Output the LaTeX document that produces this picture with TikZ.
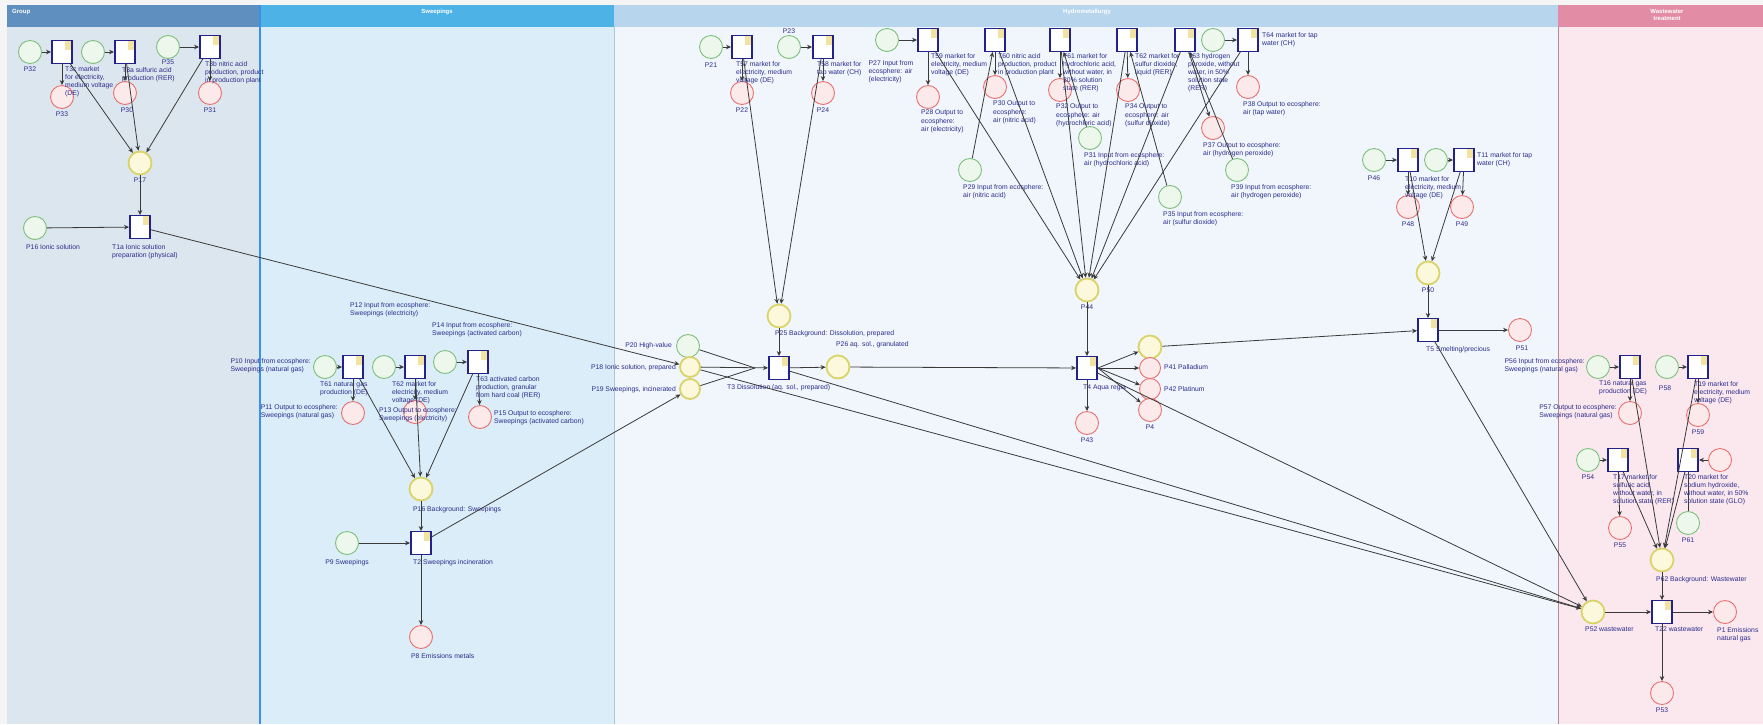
\documentclass[tikz,border=0pt]{standalone}
\usepackage{fontspec}
\setmainfont{Liberation Sans}
\usetikzlibrary{arrows.meta}
\definecolor{laneAh}{HTML}{5E8FBE}\definecolor{laneAb}{HTML}{DCE6EE}
\definecolor{laneBh}{HTML}{4DB3E6}\definecolor{laneBb}{HTML}{DBEDF8}
\definecolor{laneCh}{HTML}{B7D6EE}\definecolor{laneCb}{HTML}{F0F6FC}
\definecolor{laneDh}{HTML}{E28CA5}\definecolor{laneDb}{HTML}{FAE8EE}
\definecolor{gD}{HTML}{7DBF7D}\definecolor{gF}{HTML}{EEF7EC}
\definecolor{rD}{HTML}{E87070}\definecolor{rF}{HTML}{FCE9EA}
\definecolor{yD}{HTML}{D9D36A}\definecolor{yF}{HTML}{FBF8DC}
\definecolor{trb}{HTML}{22228A}\definecolor{labc}{HTML}{2B2B8C}
\definecolor{arcc}{HTML}{3A3A3A}\definecolor{corner}{HTML}{F3E3A0}
\newcommand{\lfnt}{\fontsize{6.8}{8.2}\selectfont}
\begin{document}
\begin{tikzpicture}[x=1pt,y=-1pt,
 pl/.style={circle, minimum size=23pt, inner sep=0pt, line width=0.9pt},
 pg/.style={pl, draw=gD, fill=gF},
 pr/.style={pl, draw=rD, fill=rF},
 py/.style={pl, draw=yD, fill=yF, line width=1.8pt},
 tr/.style={rectangle, minimum width=21pt, minimum height=23pt, inner sep=0pt, draw=trb, fill=white, line width=0.9pt,
   path picture={
     \fill[corner] ([xshift=-8pt]path picture bounding box.north east) rectangle ([yshift=-9pt]path picture bounding box.north east);
     \draw[trb, line width=3.2pt] (path picture bounding box.north west) -- (path picture bounding box.south west);
     \draw[trb, line width=3.2pt] (path picture bounding box.north east) -- (path picture bounding box.south east);}},
 lab/.style={font=\lfnt, text=labc, align=left, inner sep=0pt},
 hdr/.style={font=\fontsize{6}{7}\selectfont\bfseries, text=white, inner sep=0pt, align=center},
 arc/.style={draw=arcc, line width=0.8pt, -{Stealth[length=5pt,width=4.5pt]}},
 ln/.style={draw=arcc, line width=0.8pt}]
\useasboundingbox (0,0) rectangle (1763,724);
% lanes
\fill[white!92!gray] (0,0) rectangle (1763,724);
\fill[laneAb] (7,27) rectangle (260,724);
\fill[laneAh] (7,5) rectangle (260,27);
\fill[laneBb] (260,27) rectangle (614,724);
\fill[laneBh] (260,5) rectangle (614,27);
\fill[laneCb] (614,27) rectangle (1558,724);
\fill[laneCh] (614,5) rectangle (1558,27);
\fill[laneDb] (1558,27) rectangle (1763,724);
\fill[laneDh] (1558,5) rectangle (1763,27);
\draw[laneBh!80!blue, line width=1.3pt] (260,5) -- (260,724);
\draw[laneCh!80!gray, line width=1pt] (614,27) -- (614,724);
\draw[laneDh!60!gray, line width=1pt] (1558,27) -- (1558,724);
\node[hdr, anchor=west] (hA) at (12,12) {Group};
\node[hdr] (hB) at (437,12) {Sweepings};
\node[hdr] (hC) at (1087,12) {Hydrometallurgy};
\node[hdr] (hD) at (1667,15) {Wastewater\\treatment};
% ---------- Lane 1
\node[pg] (ga) at (30,52) {};
\node[tr] (ta) at (62,52) {};
\node[pg] (gb) at (93,52) {};
\node[tr] (tb) at (125,52) {};
\node[pg] (gc) at (168,47) {};
\node[tr] (tc) at (210,47) {};
\node[pr] (ra) at (62,97) {};
\node[pr] (rb) at (125,93) {};
\node[pr] (rc) at (210,93) {};
\node[py] (y17) at (140,163) {};
\node[tr] (t1) at (140,227) {};
\node[pg] (g16) at (35,228) {};
\node[lab,anchor=north] (lga) at (30,67) {P32};
\node[lab,anchor=north west] (lta) at (65,66) {T3c market\\for electricity,\\medium voltage\\(DE)};
\node[lab,anchor=north west] (ltb) at (122,67) {T3a sulfuric acid\\production (RER)};
\node[lab,anchor=north] (lgc) at (168,59.5) {P35};
\node[lab,anchor=north west] (ltc) at (205,61) {T3b nitric acid\\production, product\\in production plant};
\node[lab,anchor=north] (lra) at (62,112) {P33};
\node[lab,anchor=north] (lrb) at (127,108) {P30};
\node[lab,anchor=north] (lrc) at (210,108) {P31};
\node[lab,anchor=north] (ly17) at (140,178) {P17};
\node[lab,anchor=north west] (lg16) at (26,244) {P16 Ionic solution};
\node[lab,anchor=north west] (lt1) at (112,244) {T1a Ionic solution\\preparation (physical)};
\draw[arc] (ga) -- (ta); \draw[arc] (gb) -- (tb); \draw[arc] (gc) -- (tc);
\draw[arc] (ta) -- (ra); \draw[arc] (tb) -- (rb); \draw[arc] (tc) -- (rc);
\draw[arc] (ta) -- (y17); \draw[arc] (tb) -- (y17); \draw[arc] (tc) -- (y17);
\draw[arc] (y17) -- (t1); \draw[arc] (g16) -- (t1);
% ---------- Lane 2
\node[pg] (g10) at (325,367) {};
\node[tr] (t61) at (353,367) {};
\node[pg] (g12) at (384,367) {};
\node[tr] (t62) at (415,367) {};
\node[pg] (g14) at (445,362) {};
\node[tr] (t63) at (478,362) {};
\node[pr] (r11) at (353,413) {};
\node[pr] (r13) at (415,412) {};
\node[pr] (r15) at (480,417) {};
\node[py] (y16) at (421,489) {};
\node[tr] (t2) at (421,543) {};
\node[pg] (g9) at (347,543) {};
\node[pr] (r8) at (421,637) {};
\node[lab,anchor=north east] (lg10) at (311,358) {P10 Input from ecosphere:\\Sweepings (natural gas)};
\node[lab,anchor=north east] (lr11) at (338,404) {P11 Output to ecosphere:\\Sweepings (natural gas)};
\node[lab,anchor=north west] (lg12) at (350,302) {P12 Input from ecosphere:\\Sweepings (electricity)};
\node[lab,anchor=north west] (lg14) at (432,322) {P14 Input from ecosphere:\\Sweepings (activated carbon)};
\node[lab,anchor=north west] (lt61) at (320,381) {T61 natural gas\\production (DE)};
\node[lab,anchor=north west] (lt62) at (392,381) {T62 market for\\electricity, medium\\voltage (DE)};
\node[lab,anchor=north west] (lt63) at (476,376) {T63 activated carbon\\production, granular\\from hard coal (RER)};
\node[lab,anchor=north west] (lr13) at (379,407) {P13 Output to ecosphere:\\Sweepings (electricity)};
\node[lab,anchor=west] (lr15) at (494,418) {P15 Output to ecosphere:\\Sweepings (activated carbon)};
\node[lab,anchor=north west] (ly16) at (413,506) {P16 Background: Sweepings};
\node[lab,anchor=north west] (lt2) at (413,559) {T2 Sweepings incineration};
\node[lab,anchor=north] (lg9) at (347,559) {P9 Sweepings};
\node[lab,anchor=north west] (lr8) at (411,653) {P8 Emissions metals};
\draw[arc] (g10) -- (t61); \draw[arc] (g12) -- (t62); \draw[arc] (g14) -- (t63);
\draw[arc] (t61) -- (r11); \draw[arc] (t62) -- (r13); \draw[arc] (t63) -- (r15);
\draw[arc] (t61) -- (y16); \draw[arc] (t62) -- (y16); \draw[arc] (t63) -- (y16);
\draw[arc] (y16) -- (t2); \draw[arc] (g9) -- (t2); \draw[arc] (t2) -- (r8);
% ---------- Lane 3 left
\node[pg] (g20) at (688,346) {};
\node[py, minimum size=20pt] (y18) at (690,367) {};
\node[py, minimum size=20pt] (y19) at (690,389) {};
\node[tr] (t3) at (779,368) {};
\node[py] (y25) at (779,316) {};
\node[py] (y26) at (838,367) {};
\coordinate (m3) at (755,368);
\node[lab,anchor=east] (lg20) at (672,346) {P20 High-value};
\node[lab,anchor=east] (ly18) at (676,368) {P18 Ionic solution, prepared};
\node[lab,anchor=east] (ly19) at (676,390) {P19 Sweepings, incinerated};
\node[lab,anchor=north west] (lt3) at (727,384) {T3 Dissolution (aq. sol., prepared)};
\node[lab,anchor=north west] (ly25) at (775,330) {P25 Background: Dissolution, prepared};
\node[lab,anchor=west] (ly26) at (836,345) {P26 aq. sol., granulated};
\draw[arc] (t1) -- (y18);
\draw[arc] (t2) -- (y19);
\draw[ln] (g20) -- (m3); \draw[ln] (y19) -- (m3);
\draw[arc] (y18) -- (t3); \draw[arc] (y25) -- (t3);
\draw[arc] (t3) -- (y26);
% ---------- Lane 3 top
\node[pg] (g21) at (711,47) {};
\node[tr] (t57) at (742,47) {};
\node[pr] (r22) at (742,93) {};
\node[pg] (g23) at (789,47) {};
\node[tr] (t58) at (823,47) {};
\node[pr] (r24) at (823,93) {};
\node[lab,anchor=north] (lg21) at (711,63) {P21};
\node[lab,anchor=north west] (lt57) at (736,61) {T57 market for\\electricity, medium\\voltage (DE)};
\node[lab,anchor=south] (lg23) at (789,34) {P23};
\node[lab,anchor=north west] (lt58) at (817,61) {T58 market for\\tap water (CH)};
\node[lab,anchor=north] (lr22) at (742,108) {P22};
\node[lab,anchor=north] (lr24) at (823,108) {P24};
\draw[arc] (g21) -- (t57); \draw[arc] (g23) -- (t58);
\draw[arc] (t57) -- (r22); \draw[arc] (t58) -- (r24);
\draw[arc] (t57) -- (y25); \draw[arc] (t58) -- (y25);
\node[pg] (g27) at (887,40) {};
\node[tr] (t59) at (928,40) {};
\node[pr] (r28) at (928,97) {};
\node[tr] (t60) at (995,40) {};
\node[pr] (r30) at (995,87) {};
\node[pg] (g29) at (970,170) {};
\node[tr] (t61b) at (1060,40) {};
\node[pr] (r32) at (1060,90) {};
\node[pg] (g31) at (1090,138) {};
\node[tr] (t62b) at (1127,40) {};
\node[pr] (r34) at (1128,90) {};
\node[pg] (g35) at (1170,197) {};
\node[tr] (t63b) at (1185,40) {};
\node[pr] (r37) at (1213,128) {};
\node[pg] (g39) at (1237,170) {};
\node[pg] (g36) at (1213,40) {};
\node[tr] (t64) at (1248,40) {};
\node[pr] (r38) at (1248,87) {};
\node[py] (y44) at (1087,290) {};
\node[tr] (t4) at (1087,368) {};
\node[py] (y45) at (1150,347) {};
\node[pr, minimum size=21pt] (r41) at (1150,368) {};
\node[pr, minimum size=21pt] (r42) at (1150,389) {};
\node[pr] (r4) at (1150,410) {};
\node[pr] (r43) at (1087,423) {};
\node[lab,anchor=north] (lg27) at (891,60) {P27 Input from\\ecosphere: air\\(electricity)};
\node[lab,anchor=north west] (lt59) at (931,53) {T59 market for\\electricity, medium\\voltage (DE)};
\node[lab,anchor=north west] (lr28) at (921,110) {P28 Output to\\ecosphere:\\air (electricity)};
\node[lab,anchor=north west] (lt60) at (998,53) {T60 nitric acid\\production, product\\in production plant};
\node[lab,anchor=north west] (lr30) at (993,101) {P30 Output to\\ecosphere:\\air (nitric acid)};
\node[lab,anchor=north west] (lg29) at (963,184) {P29 Input from ecosphere:\\air (nitric acid)};
\node[lab,anchor=north west] (lt61b) at (1063,53) {T61 market for\\hydrochloric acid,\\without water, in\\30\% solution\\state (RER)};
\node[lab,anchor=north west] (lr32) at (1056,104) {P32 Output to\\ecosphere: air\\(hydrochloric acid)};
\node[lab,anchor=north west] (lg31) at (1084,152) {P31 Input from ecosphere:\\air (hydrochloric acid)};
\node[lab,anchor=north west] (lt62b) at (1135,53) {T62 market for\\sulfur dioxide,\\liquid (RER)};
\node[lab,anchor=north west] (lr34) at (1125,104) {P34 Output to\\ecosphere: air\\(sulfur dioxide)};
\node[lab,anchor=north west] (lg35) at (1163,211) {P35 Input from ecosphere:\\air (sulfur dioxide)};
\node[lab,anchor=north west] (lt63b) at (1188,53) {T63 hydrogen\\peroxide, without\\water, in 50\%\\solution state\\(RER)};
\node[lab,anchor=north west] (lr37) at (1203,142) {P37 Output to ecosphere:\\air (hydrogen peroxide)};
\node[lab,anchor=north west] (lg39) at (1231,184) {P39 Input from ecosphere:\\air (hydrogen peroxide)};
\node[lab,anchor=west] (lt64) at (1262,40) {T64 market for tap\\water (CH)};
\node[lab,anchor=north west] (lr38) at (1243,101) {P38 Output to ecosphere:\\air (tap water)};
\node[lab,anchor=north] (ly44) at (1087,305) {P44};
\node[lab,anchor=north west] (lt4) at (1083,384) {T4 Aqua regia};
\node[lab,anchor=west] (lr41) at (1164,367) {P41 Palladium};
\node[lab,anchor=west] (lr42) at (1164,389) {P42 Platinum};
\node[lab,anchor=north] (lr4) at (1150,425) {P4};
\node[lab,anchor=north] (lr43) at (1087,438) {P43};
\draw[arc] (g27) -- (t59); \draw[arc] (g36) -- (t64);
\draw[arc] (t59) -- (r28); \draw[arc] (t60) -- (r30); \draw[arc] (t61b) -- (r32);
\draw[arc] (t62b) -- (r34); \draw[arc] (t63b) -- (r37); \draw[arc] (t64) -- (r38);
\draw[arc] (g29) -- (t60); \draw[arc] (g31) -- (t61b); \draw[arc] (g35) -- (t62b); \draw[arc] (g39) -- (t63b);
\draw[arc] (t59) -- (y44); \draw[arc] (t60) -- (y44); \draw[arc] (t61b) -- (y44);
\draw[arc] (t62b) -- (y44); \draw[arc] (t63b) -- (y44); \draw[arc] (t64) -- (y44);
\draw[arc] (y44) -- (t4); \draw[arc] (y26) -- (t4);
\draw[arc] (t4.east) -- (y45); \draw[arc] (t4.east) -- (r41); \draw[arc] (t4.east) -- (r42);
\draw[arc] (t4.east) -- (r4); \draw[arc] (t4) -- (r43);
% ---------- Lane 3 right
\node[pg] (g46) at (1374,160) {};
\node[tr] (t10) at (1408,160) {};
\node[pg] (g47) at (1436,160) {};
\node[tr] (t11) at (1464,160) {};
\node[pr] (r48) at (1408,207) {};
\node[pr] (r49) at (1462,207) {};
\node[py] (y50) at (1428,273) {};
\node[tr] (t5) at (1428,330) {};
\node[pr] (r51) at (1520,330) {};
\node[lab,anchor=north] (lg46) at (1374,176) {P46};
\node[lab,anchor=north west] (lt10) at (1405,176) {T10 market for\\electricity, medium\\voltage (DE)};
\node[lab,anchor=west] (lt11) at (1477,160) {T11 market for tap\\water (CH)};
\node[lab,anchor=north] (lr48) at (1408,222) {P48};
\node[lab,anchor=north] (lr49) at (1462,222) {P49};
\node[lab,anchor=north] (ly50) at (1428,288) {P50};
\node[lab,anchor=north west] (lt5) at (1426,346) {T5 Smelting/precious};
\node[lab,anchor=north] (lr51) at (1522,346) {P51};
\draw[arc] (g46) -- (t10); \draw[arc] (g47) -- (t11);
\draw[arc] (t10) -- (r48); \draw[arc] (t11) -- (r49);
\draw[arc] (t10) -- (y50); \draw[arc] (t11) -- (y50);
\draw[arc] (y50) -- (t5); \draw[arc] (y45) -- (t5); \draw[arc] (t5) -- (r51);
% ---------- Lane 4
\node[pg] (g56) at (1598,367) {};
\node[tr] (t16) at (1630,367) {};
\node[pg] (g58) at (1667,367) {};
\node[tr] (t19) at (1698,367) {};
\node[pr] (r57) at (1630,413) {};
\node[pr] (r59) at (1698,415) {};
\node[pg] (g54) at (1588,460) {};
\node[tr] (t17) at (1618,460) {};
\node[tr] (t20) at (1688,460) {};
\node[pr] (r60) at (1720,460) {};
\node[pr] (r55) at (1620,528) {};
\node[pg] (g61) at (1688,523) {};
\node[py] (y62) at (1662,560) {};
\node[py] (y52) at (1593,612) {};
\node[tr] (t22) at (1662,612) {};
\node[pr] (r1) at (1725,612) {};
\node[pr] (r53) at (1662,693) {};
\node[lab,anchor=north east] (lg56) at (1585,358) {P56 Input from ecosphere:\\Sweepings (natural gas)};
\node[lab,anchor=north west] (lt16) at (1599,380) {T16 natural gas\\production (DE)};
\node[lab,anchor=north] (lg58) at (1665,386) {P58};
\node[lab,anchor=north west] (lt19) at (1694,381) {T19 market for\\electricity, medium\\voltage (DE)};
\node[lab,anchor=north east] (lr57) at (1617,404) {P57 Output to ecosphere:\\Sweepings (natural gas)};
\node[lab,anchor=north] (lr59) at (1698,430) {P59};
\node[lab,anchor=north] (lg54) at (1588,475) {P54};
\node[lab,anchor=north west] (lt17) at (1613,474) {T17 market for\\sulfuric acid,\\without water, in\\solution state (RER)};
\node[lab,anchor=north west] (lt20) at (1684,474) {T20 market for\\sodium hydroxide,\\without water, in 50\%\\solution state (GLO)};
\node[lab,anchor=north] (lr55) at (1620,543) {P55};
\node[lab,anchor=north] (lg61) at (1688,538) {P61};
\node[lab,anchor=north west] (ly62) at (1656,576) {P62 Background: Wastewater};
\node[lab,anchor=north west] (ly52) at (1585,627) {P52 wastewater};
\node[lab,anchor=north west] (lt22) at (1655,627) {T22 wastewater};
\node[lab,anchor=north west] (lr1) at (1717,627) {P1 Emissions\\natural gas};
\node[lab,anchor=north] (lr53) at (1662,708) {P53};
\draw[arc] (g56) -- (t16); \draw[arc] (g58) -- (t19); \draw[arc] (g54) -- (t17); \draw[arc] (r60) -- (t20);
\draw[arc] (t16) -- (r57); \draw[arc] (t19) -- (r59); \draw[arc] (t17) -- (r55);
\draw[ln] (g61) -- (t20);
\draw[arc] (t16) -- (y62); \draw[arc] (t19) -- (y62); \draw[arc] (t17) -- (y62); \draw[arc] (t20) -- (y62);
\draw[arc] (y62) -- (t22); \draw[arc] (y52) -- (t22); \draw[arc] (t22) -- (r1); \draw[arc] (t22) -- (r53);
% long arcs to wastewater
\draw[arc] (y18) -- (y52);
\draw[arc] (t3) -- (y52);
\draw[arc] (t4) -- (y52);
\draw[arc] (t5) -- (y52);
\end{tikzpicture}
\end{document}
